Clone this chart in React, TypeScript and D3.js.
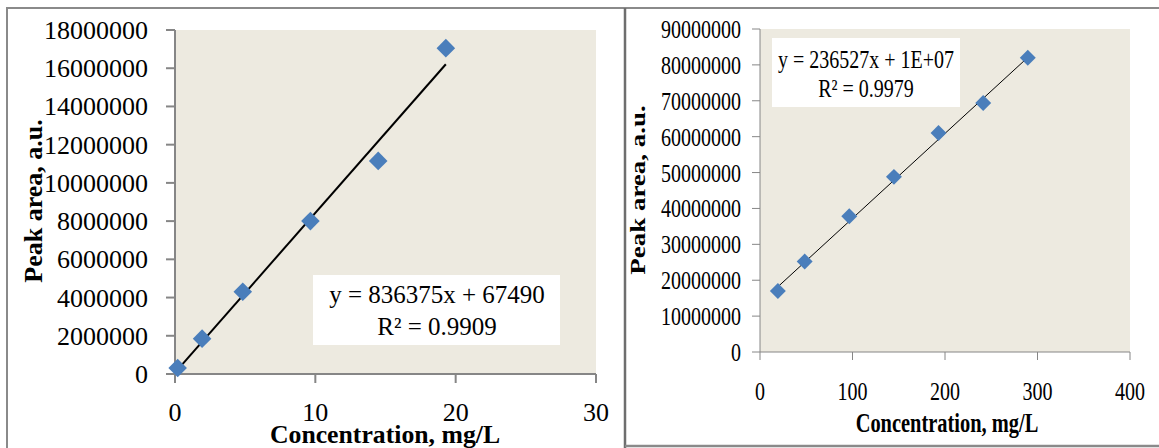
import React from 'react';
import * as d3 from 'd3';

// left calibration (low range)
const leftConc = [0.19, 1.93, 4.83, 9.65, 14.48, 19.3];
const leftArea = [310000, 1850000, 4300000, 8000000, 11150000, 17050000];
const leftXTicks = [0, 10, 20, 30];
const leftYTicks = [0, 2000000, 4000000, 6000000, 8000000, 10000000, 12000000, 14000000, 16000000, 18000000];
const leftTrend = { slope: 836375, intercept: 67490 };
const leftEquation = ['y = 836375x + 67490', 'R² = 0.9909'];

// right calibration (high range)
const rightConc = [19.3, 48.3, 96.5, 144.8, 193, 241.3, 289.5];
const rightArea = [17000000, 25200000, 37800000, 48800000, 61000000, 69400000, 82000000];
const rightXTicks = [0, 100, 200, 300, 400];
const rightYTicks = [0, 10000000, 20000000, 30000000, 40000000, 50000000, 60000000, 70000000, 80000000, 90000000];
const rightTrend = { slope: 236527, intercept: 13600000 };
const rightEquation = ['y = 236527x + 1E+07', 'R² = 0.9979'];

const xTitle = 'Concentration, mg/L';
const yTitle = 'Peak area, a.u.';

const SERIF = '"Liberation Serif", "Times New Roman", serif';
const BG = '#edeae0';
const AXIS = '#868686';
const MARKER = '#4a7ebb';

type ChartProps = {
  conc: number[];
  area: number[];
  xTicks: number[];
  yTicks: number[];
  trend: { slope: number; intercept: number };
  equation: string[];
  plot: { left: number; right: number; top: number; bottom: number };
  sx: number; // horizontal squeeze of the text
  tickSize: number;
  tickLabelRight: number;
  xLabelBaseline: number;
  xTitlePos: { x: number; y: number; size: number; sx: number };
  yTitlePos: { x: number; y: number; size: number; sx: number };
  eqBox: { x0: number; x1: number; y0: number; y1: number; cx: number; b1: number; b2: number; size: number; sx: number };
  axisWidth: number;
  lineWidth: number;
  marker: number;
};

const Chart = (p: ChartProps) => {
  const x = d3.scaleLinear().domain([d3.min(p.xTicks)!, d3.max(p.xTicks)!]).range([p.plot.left, p.plot.right]);
  const y = d3.scaleLinear().domain([0, d3.max(p.yTicks)!]).range([p.plot.bottom, p.plot.top]);
  const pts = p.conc.map((c, i) => ({ c, a: p.area[i] }));
  const x0 = d3.min(p.conc)!;
  const x1 = d3.max(p.conc)!;
  const line = d3.line<number>()
    .x(d => x(d))
    .y(d => y(p.trend.slope * d + p.trend.intercept));
  const diamond = d3.symbol().type(d3.symbolDiamond2).size(p.marker * p.marker / 2)();
  const tl = p.plot.left;

  return (
    <g fontFamily={SERIF} fill="#000">
      <rect x={p.plot.left} y={p.plot.top} width={p.plot.right - p.plot.left} height={p.plot.bottom - p.plot.top} fill={BG} />

      {/* y axis */}
      <line x1={tl} x2={tl} y1={p.plot.top} y2={p.plot.bottom} stroke={AXIS} strokeWidth={p.axisWidth} />
      {p.yTicks.map(t => (
        <g key={'y' + t}>
          <line x1={tl - p.tickSize} x2={tl} y1={y(t)} y2={y(t)} stroke={AXIS} strokeWidth={p.axisWidth} />
          <text transform={`translate(${p.tickLabelRight},${y(t) + 9}) scale(${p.sx},1)`} textAnchor="end" fontSize={26}>
            {t}
          </text>
        </g>
      ))}

      {/* x axis */}
      <line x1={p.plot.left} x2={p.plot.right} y1={p.plot.bottom} y2={p.plot.bottom} stroke={AXIS} strokeWidth={p.axisWidth} />
      {p.xTicks.map(t => (
        <g key={'x' + t}>
          <line x1={x(t)} x2={x(t)} y1={p.plot.bottom} y2={p.plot.bottom + p.tickSize} stroke={AXIS} strokeWidth={p.axisWidth} />
          <text transform={`translate(${x(t)},${p.xLabelBaseline}) scale(${p.sx},1)`} textAnchor="middle" fontSize={26}>
            {t}
          </text>
        </g>
      ))}

      {/* trendline */}
      <path d={line([x0, x1]) || ''} fill="none" stroke="#000" strokeWidth={p.lineWidth} />

      {pts.map((d, i) => (
        <path key={i} d={diamond || ''} transform={`translate(${x(d.c)},${y(d.a)})`} fill={MARKER} />
      ))}

      {/* equation label */}
      <rect x={p.eqBox.x0} y={p.eqBox.y0} width={p.eqBox.x1 - p.eqBox.x0} height={p.eqBox.y1 - p.eqBox.y0} fill="#fff" />
      <text transform={`translate(${p.eqBox.cx},${p.eqBox.b1}) scale(${p.eqBox.sx},1)`} textAnchor="middle" fontSize={p.eqBox.size}>
        {p.equation[0]}
      </text>
      <text transform={`translate(${p.eqBox.cx},${p.eqBox.b2}) scale(${p.eqBox.sx},1)`} textAnchor="middle" fontSize={p.eqBox.size}>
        {p.equation[1]}
      </text>

      {/* titles */}
      <text
        transform={`translate(${p.xTitlePos.x},${p.xTitlePos.y}) scale(${p.xTitlePos.sx},1)`}
        textAnchor="middle" fontWeight="bold" fontSize={p.xTitlePos.size}
      >
        {xTitle}
      </text>
      <text
        transform={`translate(${p.yTitlePos.x},${p.yTitlePos.y}) scale(${p.yTitlePos.sx},1) rotate(-90)`}
        textAnchor="middle" fontWeight="bold" fontSize={p.yTitlePos.size}
      >
        {yTitle}
      </text>
    </g>
  );
};

export default function App() {
  return (
    <svg width={1159} height={448} style={{ position: 'absolute', left: 0, top: 0, background: '#fff' }}>
      {/* panel frames */}
      <line x1={6} x2={1159} y1={8} y2={8} stroke="#8a8a8a" strokeWidth={2} />
      <line x1={7} x2={7} y1={8} y2={448} stroke="#8a8a8a" strokeWidth={2} />
      <line x1={625} x2={625} y1={8} y2={448} stroke="#6e6e6e" strokeWidth={2.5} />
      <line x1={625} x2={1159} y1={446} y2={446} stroke="#8a8a8a" strokeWidth={2.5} />

      <Chart
        conc={leftConc}
        area={leftArea}
        xTicks={leftXTicks}
        yTicks={leftYTicks}
        trend={leftTrend}
        equation={leftEquation}
        plot={{ left: 175, right: 596, top: 30, bottom: 374 }}
        sx={1}
        tickSize={9}
        tickLabelRight={148}
        xLabelBaseline={421}
        xTitlePos={{ x: 385, y: 443, size: 25, sx: 1.03 }}
        yTitlePos={{ x: 42, y: 201, size: 26, sx: 1 }}
        eqBox={{ x0: 313, x1: 560, y0: 275, y1: 345, cx: 437, b1: 303, b2: 335, size: 25, sx: 1 }}
        axisWidth={2}
        lineWidth={2}
        marker={21}
      />

      <Chart
        conc={rightConc}
        area={rightArea}
        xTicks={rightXTicks}
        yTicks={rightYTicks}
        trend={rightTrend}
        equation={rightEquation}
        plot={{ left: 760, right: 1130, top: 29, bottom: 352 }}
        sx={0.77}
        tickSize={8}
        tickLabelRight={741}
        xLabelBaseline={400}
        xTitlePos={{ x: 947, y: 432, size: 28, sx: 0.73 }}
        yTitlePos={{ x: 645, y: 190, size: 27, sx: 0.77 }}
        eqBox={{ x0: 772, x1: 960, y0: 38, y1: 107, cx: 866, b1: 68, b2: 97, size: 25, sx: 0.8 }}
        axisWidth={1}
        lineWidth={1}
        marker={18}
      />
    </svg>
  );
}
